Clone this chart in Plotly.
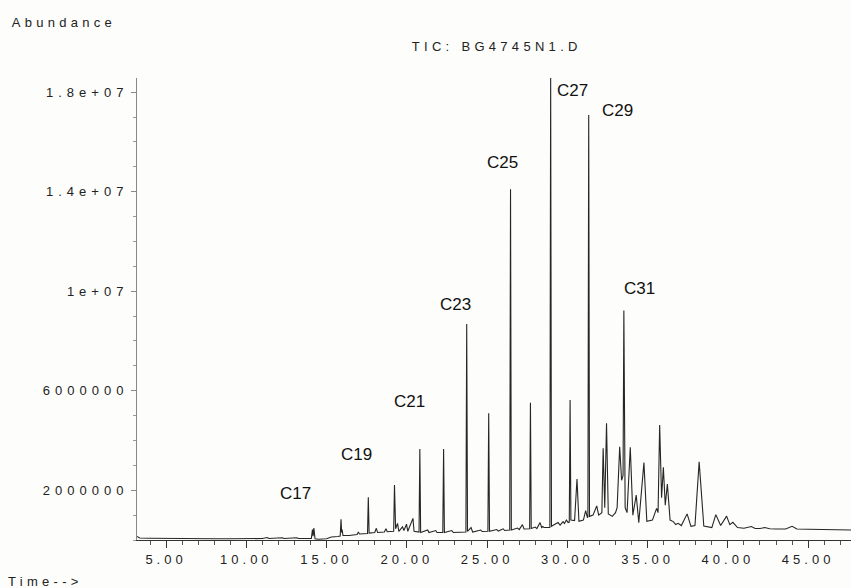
import plotly.graph_objects as go

# Retention time (min) and abundance (x1e6)
time_min = [
    3.20, 3.35, 4.00, 5.00, 6.00, 7.00, 8.00, 9.00, 10.00, 11.00, 11.30, 11.40,
    12.25, 12.35, 13.15, 13.25, 14.05, 14.12, 14.16, 14.21, 14.28, 14.50, 15.00,
    15.30, 15.70, 15.85, 15.90, 15.94, 15.97, 16.02, 16.40, 16.90, 16.98, 17.05,
    17.55, 17.60, 17.65, 18.00, 18.10, 18.18, 18.60, 18.70, 18.78, 19.18, 19.23,
    19.30, 19.42, 19.50, 19.73, 19.82, 19.98, 20.06, 20.38, 20.45, 20.76, 20.81,
    20.86, 21.30, 21.38, 21.80, 21.88, 22.24, 22.29, 22.34, 22.80, 22.90, 23.68,
    23.73, 23.78, 24.00, 24.10, 24.60, 24.70, 25.05, 25.10, 25.15, 25.60, 25.70,
    26.00, 26.10, 26.41, 26.46, 26.51, 26.90, 27.00, 27.20, 27.30, 27.65, 27.70,
    27.75, 28.00, 28.10, 28.30, 28.40, 28.48, 28.55, 28.91, 28.96, 29.01, 29.42,
    29.55, 29.73, 29.82, 29.94, 30.05, 30.12, 30.17, 30.22, 30.45, 30.60, 30.72,
    31.00, 31.14, 31.25, 31.28, 31.33, 31.38, 31.60, 31.83, 31.95, 32.15, 32.23,
    32.33, 32.44, 32.55, 32.80, 33.00, 33.10, 33.20, 33.26, 33.38, 33.47, 33.52,
    33.60, 33.72, 33.92, 34.08, 34.29, 34.45, 34.63, 34.77, 34.95, 35.30, 35.56,
    35.65, 35.75, 35.87, 35.98, 36.10, 36.23, 36.40, 36.60, 36.75, 36.90, 37.10,
    37.46, 37.70, 37.95, 38.21, 38.50, 39.00, 39.25, 39.55, 39.92, 40.12, 40.31,
    40.60, 41.00, 41.46, 41.70, 42.00, 42.30, 42.60, 43.00, 43.60, 44.00, 44.30,
    45.00, 46.00, 47.00, 47.70,
]
abundance_e6 = [
    0.14, 0.08, 0.07, 0.06, 0.06, 0.05, 0.05, 0.05, 0.05, 0.06, 0.10, 0.06,
    0.09, 0.06, 0.09, 0.06, 0.06, 0.42, 0.15, 0.48, 0.05, 0.03, 0.05,
    0.12, 0.14, 0.16, 0.83, 0.30, 0.42, 0.18, 0.18, 0.22, 0.32, 0.24,
    0.26, 1.72, 0.28, 0.30, 0.47, 0.30, 0.32, 0.45, 0.33, 0.35, 2.21,
    0.45, 0.67, 0.35, 0.53, 0.38, 0.64, 0.35, 0.87, 0.35, 0.32, 3.66,
    0.30, 0.40, 0.30, 0.38, 0.30, 0.30, 3.66, 0.30, 0.38, 0.30, 0.32,
    8.68, 0.35, 0.50, 0.32, 0.40, 0.34, 0.35, 5.09, 0.35, 0.42, 0.36,
    0.45, 0.38, 0.40, 14.10, 0.40, 0.48, 0.42, 0.62, 0.44, 0.45, 5.52,
    0.46, 0.52, 0.46, 0.70, 0.50, 0.54, 0.50, 0.50, 18.60, 0.55, 0.70,
    0.60, 0.74, 0.66, 0.80, 0.70, 0.72, 5.63, 0.80, 0.78, 2.45, 0.75,
    0.80, 1.18, 0.90, 0.92, 17.08, 0.95, 1.00, 1.37, 1.00, 1.10, 3.69,
    1.30, 4.69, 1.05, 0.95, 1.10, 1.30, 3.20, 3.75, 2.40, 2.60, 9.22,
    1.30, 1.10, 3.73, 1.00, 1.81, 0.70, 1.94, 3.11, 0.75, 0.80, 1.27,
    1.10, 4.62, 1.70, 2.92, 1.40, 2.25, 0.80, 0.74, 0.62, 0.67, 0.58,
    1.05, 0.55, 0.58, 3.14, 0.56, 0.50, 1.02, 0.58, 0.96, 0.62, 0.71,
    0.50, 0.47, 0.54, 0.46, 0.46, 0.50, 0.45, 0.44, 0.44, 0.55, 0.44,
    0.43, 0.42, 0.41, 0.40,
]

# Peak labels (n-alkanes)
peak_labels = ["C17", "C19", "C21", "C23", "C25", "C27", "C29", "C31"]
label_time = [13.06, 16.88, 20.19, 23.06, 25.94, 30.31, 33.13, 34.47]
label_abund_e6 = [1.85, 3.42, 5.55, 9.45, 15.16, 18.05, 17.25, 10.09]

# Axis ticks
x_tickvals = [5, 10, 15, 20, 25, 30, 35, 40, 45]
x_ticktext = ["5.00", "10.00", "15.00", "20.00", "25.00", "30.00", "35.00", "40.00", "45.00"]
y_tickvals = [2e6, 6e6, 1e7, 1.4e7, 1.8e7]
y_ticktext = ["2000000", "6000000", "1e+07", "1.4e+07", "1.8e+07"]

FONT = "Arial, 'Liberation Sans', sans-serif"

abundance = [v * 1e6 for v in abundance_e6]
label_abund = [v * 1e6 for v in label_abund_e6]

fig = go.Figure()
fig.add_trace(go.Scatter(
    x=time_min, y=abundance, mode="lines",
    line=dict(color="#262626", width=1.1),
    hoverinfo="skip", showlegend=False,
))

annotations = [
    dict(text="Abundance", xref="paper", yref="paper", x=-0.1022, y=1.1212,
         xanchor="center", yanchor="middle", showarrow=False,
         font=dict(family=FONT, size=13, color="#222")),
    dict(text="TIC: BG4745N1.D", xref="paper", yref="paper", x=0.5042, y=1.0671,
         xanchor="center", yanchor="middle", showarrow=False,
         font=dict(family=FONT, size=13, color="#222")),
    dict(text="Time-->", xref="paper", yref="paper", x=-0.1275, y=-0.0909,
         xanchor="center", yanchor="middle", showarrow=False,
         font=dict(family=FONT, size=13, color="#222")),
]
for lab, t, a in zip(peak_labels, label_time, label_abund):
    annotations.append(dict(text=lab, x=t, y=a, xref="x", yref="y",
                            xanchor="center", yanchor="middle", showarrow=False,
                            font=dict(family=FONT, size=17, color="#111")))

fig.update_layout(
    width=851, height=588,
    margin=dict(l=137, r=0, t=78, b=48),
    paper_bgcolor="#fdfdfb", plot_bgcolor="#fdfdfb",
    annotations=annotations,
    font=dict(family=FONT, size=13, color="#222"),
    xaxis=dict(
        range=[3.19, 47.67], showgrid=False, zeroline=False,
        showline=True, linecolor="#333", linewidth=1,
        tickmode="array", tickvals=x_tickvals, ticktext=x_ticktext,
        ticks="outside", ticklen=7, tickcolor="#333", tickwidth=1,
        tickfont=dict(family=FONT, size=13, color="#222"),
        minor=dict(dtick=1, tick0=0, ticks="outside", ticklen=4,
                   tickcolor="#555", tickwidth=1, showgrid=False),
    ),
    yaxis=dict(
        range=[0, 18.57e6], showgrid=False, zeroline=False,
        showline=True, linecolor="#888", linewidth=1,
        tickmode="array", tickvals=y_tickvals, ticktext=y_ticktext,
        ticks="outside", ticklen=5, tickcolor="#888", tickwidth=1,
        tickfont=dict(family=FONT, size=13, color="#222"),
        minor=dict(dtick=1e6, tick0=0, ticks="outside", ticklen=3,
                   tickcolor="#999", tickwidth=1, showgrid=False),
    ),
)

css_js = (
    "var s=document.createElement('style');"
    "s.textContent='.xtick text{letter-spacing:4px}.ytick text{letter-spacing:5px}"
    ".annotation[data-index=\"0\"] text,.annotation[data-index=\"1\"] text,"
    ".annotation[data-index=\"2\"] text{letter-spacing:4.3px}';"
    "document.head.appendChild(s);"
)

fig.write_html("out.html", post_script=css_js)
